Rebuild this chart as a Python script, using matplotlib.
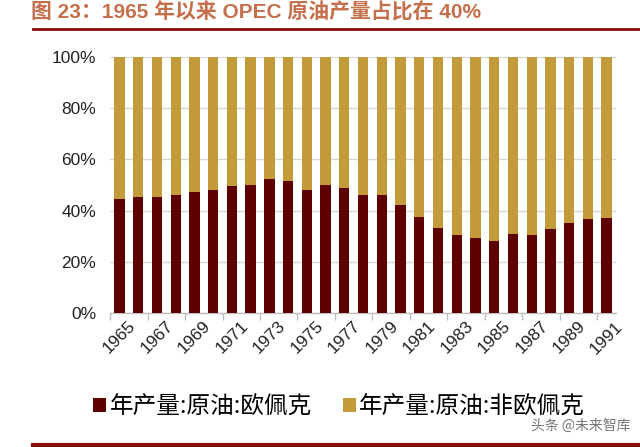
import matplotlib
matplotlib.use("Agg")
import matplotlib.pyplot as plt
from matplotlib.patches import Patch
from matplotlib.lines import Line2D
import numpy as np

years = list(range(1965, 1992))
opec = [44.7, 45.3, 45.1, 46.0, 47.1, 48.2, 49.5, 50.1, 52.3, 51.7, 47.9,
        49.9, 48.7, 46.1, 46.2, 42.1, 37.4, 33.2, 30.5, 29.2, 28.0, 30.9,
        30.3, 32.9, 35.0, 36.8, 37.1]
non_opec = [100 - v for v in opec]
yticks = [0, 20, 40, 60, 80, 100]
series_names = ["年产量:原油:欧佩克", "年产量:原油:非欧佩克"]
title = "图 23：1965 年以来 OPEC 原油产量占比在 40%"
watermark = "头条 @未来智库"

c_opec = "#5E0000"
c_non = "#C49B3B"

plt.rcParams['font.family'] = ['Liberation Sans', 'Noto Sans CJK SC', 'DejaVu Sans']

fig = plt.figure(figsize=(6.4, 4.47), dpi=100)
ax = fig.add_axes([0.172, 0.300, 0.7905, 0.5725])

x = np.arange(len(years))
ax.bar(x, opec, width=0.55, color=c_opec, zorder=3)
ax.bar(x, non_opec, bottom=opec, width=0.55, color=c_non, zorder=3)

ax.set_xlim(-0.5, len(years) - 0.5)
ax.set_ylim(0, 100)
ax.set_yticks(yticks)
ax.set_yticklabels([f"{v}%" for v in yticks], fontsize=12.5, color="#222222")
ax.yaxis.grid(True, color="#D9D9D9", linewidth=1, zorder=0)
ax.tick_params(axis='y', length=0, pad=10)

ax.set_xticks(x[::2])
ax.set_xticklabels([str(y) for y in years[::2]], rotation=45, fontsize=12.5,
                   ha='center', va='top', rotation_mode='default', color="#222222")
ax.set_xticks(np.arange(-0.5, len(years), 2), minor=True)
ax.tick_params(axis='x', which='major', length=0, pad=4)
ax.tick_params(axis='x', which='minor', length=5, color="#BFBFBF", width=1)

for s in ['left', 'right', 'top']:
    ax.spines[s].set_visible(False)
ax.spines['bottom'].set_color("#BFBFBF")
ax.spines['bottom'].set_linewidth(1)

# title
fig.text(0.048, 0.972, title, fontsize=15, fontweight='bold', color="#C5704C",
         family=['Liberation Sans', 'Noto Sans CJK SC'], va='center', ha='left')
fig.add_artist(Line2D([0.052, 1.0], [0.935, 0.935], color="#8B0A0A", linewidth=2,
                      transform=fig.transFigure))
fig.add_artist(Line2D([0.052, 1.0], [0.004, 0.004], color="#8B0A0A", linewidth=3,
                      transform=fig.transFigure))

handles = [Patch(facecolor=c_opec), Patch(facecolor=c_non)]
leg = fig.legend(handles, series_names, loc='center', bbox_to_anchor=(0.53, 0.089),
                 ncol=2, frameon=False, handlelength=0.55, handleheight=0.55,
                 handletextpad=0.15, columnspacing=1.3,
                 prop={'family': ['Noto Sans CJK SC'], 'size': 17})

fig.text(0.985, 0.048, watermark, fontsize=10, color="#777777", ha='right', va='center',
         family=['Noto Sans CJK SC'])

fig.savefig("out.png", dpi=100)
